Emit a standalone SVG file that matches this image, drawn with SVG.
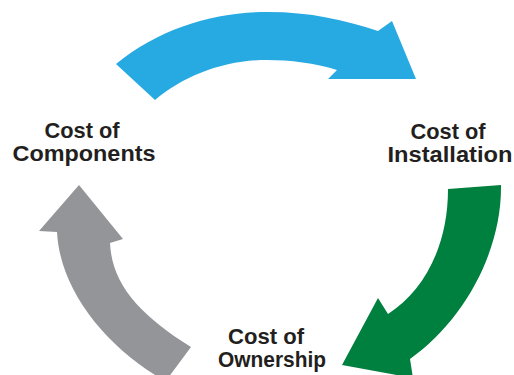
<svg xmlns="http://www.w3.org/2000/svg" width="514" height="375" viewBox="0 0 514 375">
  <style>
    .label { font-family: "Liberation Sans", Arial, sans-serif; font-weight: bold; font-size: 22px; fill: #231f20; text-anchor: middle; }
  </style>
  <rect width="514" height="375" fill="#ffffff"/>
  <g id="connectors">
    <!-- Components to Installation -->
    <path id="arrow-blue" fill="#27aae1" d="M116,64 C160,28 215,12 268,12 C310,12 345,20 378,31 L392,21 L416,79 L328,79 L337,70 C315,63 290,60 267,60 C225,60 185,75 155,100 Z"/>
    <!-- Installation to Ownership -->
    <path id="arrow-green" fill="#00803f" d="M448,189 L501,185 C502,250 465,320 410,359 L413,378 L342,365 L378,298 L388,314 C425,290 448,245 448,189 Z"/>
    <!-- Ownership to Components -->
    <path id="arrow-gray" fill="#939598" d="M79,185 L39,231 L57,232 C60,290 105,345 160,378 L168,378 L191,347 C140,315 112,285 110,243 L123,239 Z"/>
  </g>
  <g id="node-components">
    <text class="label" x="82" y="138" textLength="75" lengthAdjust="spacingAndGlyphs">Cost of</text>
    <text class="label" x="84" y="161" textLength="143" lengthAdjust="spacingAndGlyphs">Components</text>
  </g>
  <g id="node-installation">
    <text class="label" x="448" y="139" textLength="75" lengthAdjust="spacingAndGlyphs">Cost of</text>
    <text class="label" x="450" y="162" textLength="125" lengthAdjust="spacingAndGlyphs">Installation</text>
  </g>
  <g id="node-ownership">
    <text class="label" x="266" y="344" textLength="76" lengthAdjust="spacingAndGlyphs">Cost of</text>
    <text class="label" x="272" y="367" textLength="108" lengthAdjust="spacingAndGlyphs">Ownership</text>
  </g>
</svg>
